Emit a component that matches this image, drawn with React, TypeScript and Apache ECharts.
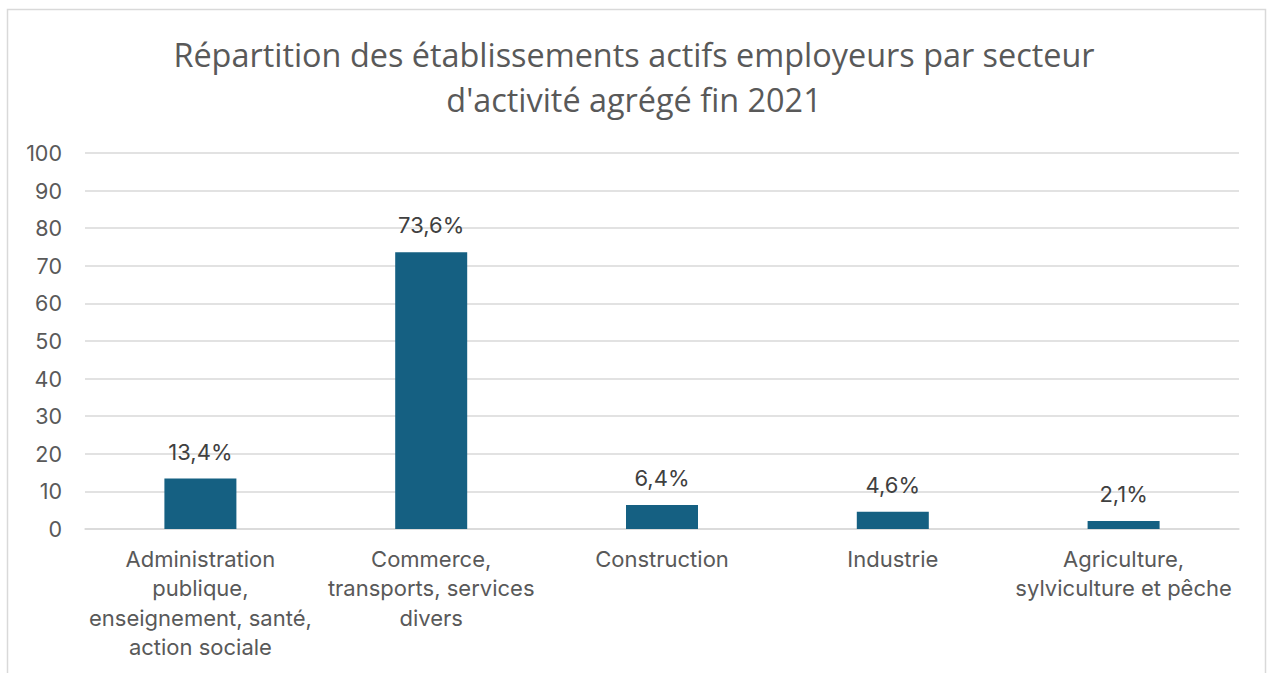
import React, { useEffect, useRef } from "react";
import * as echarts from "echarts";

const title = "Répartition des établissements actifs employeurs par secteur\nd'activité agrégé fin 2021";
const categories = [
  "Administration\npublique,\nenseignement, santé,\naction sociale",
  "Commerce,\ntransports, services\ndivers",
  "Construction",
  "Industrie",
  "Agriculture,\nsylviculture et pêche",
];
const values = [13.4, 73.6, 6.4, 4.6, 2.1];
const yTicks = { min: 0, max: 100, interval: 10 };

const FONT = "Inter, 'Open Sans', sans-serif";
const TITLE_FONT = "'Open Sans', 'Noto Sans', sans-serif";

export default function App() {
  const ref = useRef<HTMLDivElement>(null);
  useEffect(() => {
    document.body.style.margin = "0";
    const chart = echarts.init(ref.current!, null, { renderer: "svg" });
    chart.setOption({
      animation: false,
      backgroundColor: "#ffffff",
      textStyle: { fontFamily: FONT },
      title: {
        text: title,
        left: "center",
        top: 26,
        textStyle: {
          fontFamily: TITLE_FONT,
          fontSize: 32.4,
          fontWeight: "normal",
          color: "#595959",
          lineHeight: 45,
        },
      },
      graphic: [
        {
          type: "rect",
          shape: { x: 7.5, y: 9.5, width: 1258, height: 720 },
          style: { fill: "none", stroke: "#d9d9d9", lineWidth: 1.5 },
          silent: true,
        },
      ],
      grid: { left: 85, right: 29, top: 153, bottom: 144, containLabel: false },
      xAxis: {
        type: "category",
        data: categories,
        axisLine: { show: true, lineStyle: { color: "#d9d9d9", width: 1.5 } },
        axisTick: { show: false },
        axisLabel: {
          interval: 0,
          margin: 15,
          fontFamily: FONT,
          fontSize: 22,
          color: "#595959",
          lineHeight: 29.5,
        },
      },
      yAxis: {
        type: "value",
        min: yTicks.min,
        max: yTicks.max,
        interval: yTicks.interval,
        axisLine: { show: false },
        axisTick: { show: false },
        splitLine: { lineStyle: { color: "#d9d9d9", width: 1.5 } },
        axisLabel: {
          margin: 23,
          fontFamily: FONT,
          fontSize: 21.5,
          color: "#595959",
        },
      },
      series: [
        {
          type: "bar",
          data: values,
          barWidth: 72,
          itemStyle: { color: "#156082" },
          label: {
            show: true,
            position: "top",
            distance: 16,
            fontFamily: FONT,
            fontSize: 22,
            color: "#404040",
            formatter: (p: any) => String(p.value).replace(".", ",") + "%",
          },
        },
      ],
    });
    return () => chart.dispose();
  }, []);
  return (
    <div
      ref={ref}
      style={{ position: "fixed", left: 0, top: 0, width: 1268, height: 673 }}
    />
  );
}
